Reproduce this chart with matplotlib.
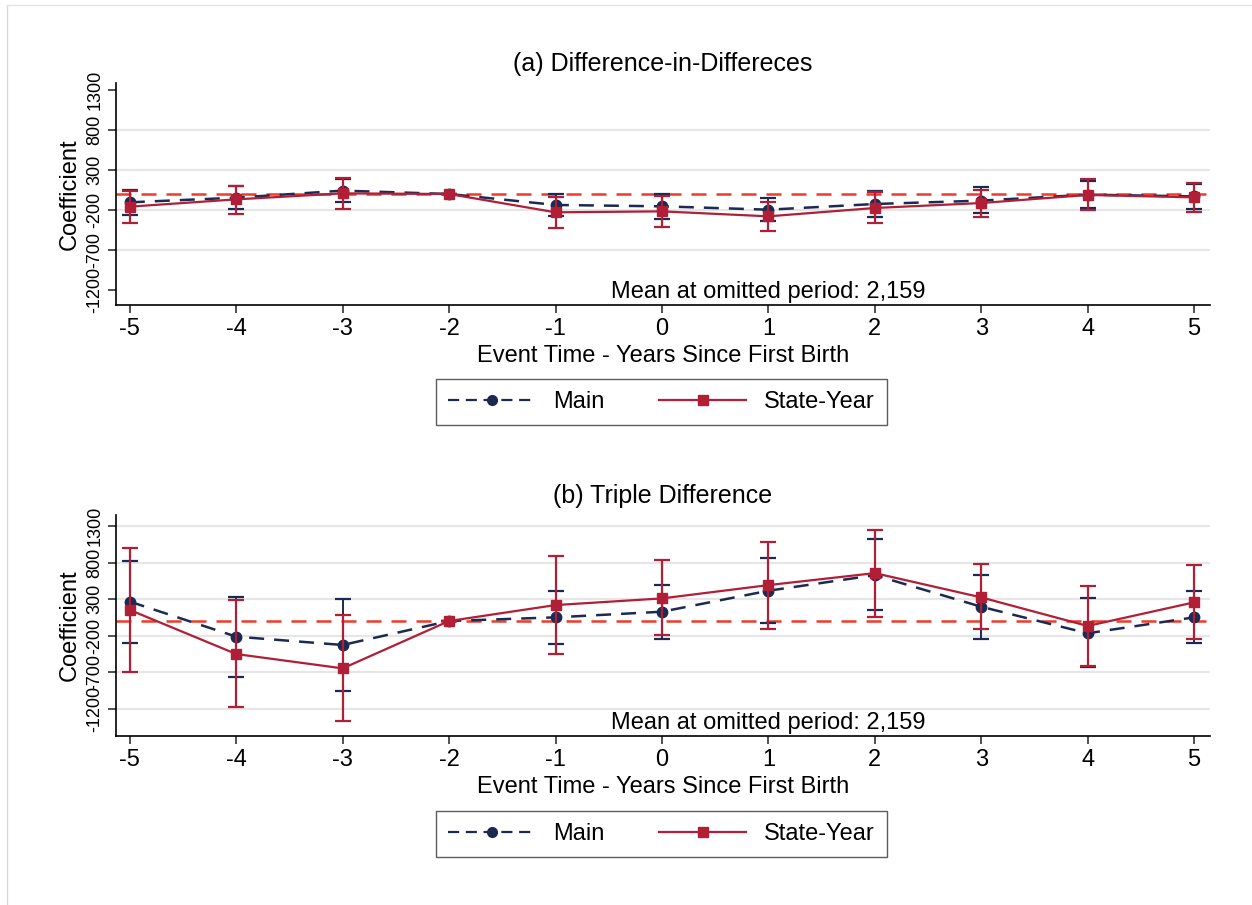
# Event-study coefficients: DiD and triple difference, Main vs State-Year

import numpy as np
import matplotlib.pyplot as plt
from matplotlib.lines import Line2D

plt.rcParams['font.family'] = ['Liberation Sans', 'DejaVu Sans']

years = [-5, -4, -3, -2, -1, 0, 1, 2, 3, 4, 5]
yticks = [-1200, -700, -200, 300, 800, 1300]

# (a) Difference-in-differences
main_a = [-104, -46, 42, 0, -137, -154, -196, -125, -83, -8, -30]
main_a_lo = [-262, -188, -104, 0, -275, -315, -338, -290, -240, -180, -190]
main_a_hi = [54, 96, 188, 0, 0, 0, -54, 33, 83, 165, 130]
red_a = [-158, -67, 8, 0, -229, -217, -279, -175, -113, -12, -42]
red_a_lo = [-358, -254, -188, 0, -425, -417, -458, -367, -292, -205, -225]
red_a_hi = [41, 104, 200, 0, -35, -25, -95, 30, 55, 184, 133]

# (b) Triple difference
main_b = [265, -214, -328, 0, 50, 127, 414, 627, 195, -168, 50]
main_b_lo = [-306, -762, -958, 0, -314, -241, -23, 150, -241, -632, -300]
main_b_hi = [821, 333, 301, 0, 409, 495, 868, 1123, 636, 309, 414]
red_b = [151, -452, -648, 0, 218, 309, 491, 655, 323, -68, 255]
red_b_lo = [-698, -1172, -1369, 0, -450, -195, -105, 59, -105, -614, -250]
red_b_hi = [995, 287, 82, 0, 895, 832, 1082, 1250, 782, 473, 764]

navy = '#1c2a52'
cranberry = '#b01f36'
zero_red = '#ee3b2b'

fig = plt.figure(figsize=(12.52, 9.05), dpi=100)

# faint screenshot border
fig.add_artist(Line2D([7 / 1252, 7 / 1252], [0, 1 - 5 / 905], color='#d8d8d8', lw=1))
fig.add_artist(Line2D([7 / 1252, 1], [1 - 5 / 905, 1 - 5 / 905], color='#e4e4e4', lw=1))


def panel(ax, title, m, mlo, mhi, r, rlo, rhi, ylim, grid_vals, leg_y):
    ax.set_xlim(-5.13, 5.15)
    ax.set_ylim(*ylim)
    for g in grid_vals:
        ax.axhline(g, color='#e6e6e6', lw=1.6, zorder=0)
    ax.axhline(0, color=zero_red, lw=1.8, ls=(0, (6, 4)), zorder=1)

    m = np.array(m); r = np.array(r)
    ax.errorbar(years, m, yerr=[m - np.array(mlo), np.array(mhi) - m], fmt='none',
                ecolor=navy, elinewidth=1.4, capsize=5.5, capthick=1.6, zorder=2)
    ax.plot(years, m, color=navy, lw=1.8, ls=(0, (6, 4)), marker='o', ms=7.5, zorder=3)
    ax.errorbar(years, r, yerr=[r - np.array(rlo), np.array(rhi) - r], fmt='none',
                ecolor=cranberry, elinewidth=1.6, capsize=5.5, capthick=1.6, zorder=4)
    ax.plot(years, r, color=cranberry, lw=1.6, marker='s', ms=7.5, zorder=5)

    ax.set_title(title, fontsize=18, pad=9)
    ax.set_xticks(years)
    ax.set_xticklabels([str(y) for y in years], fontsize=17)
    ax.set_yticks(yticks)
    ax.set_yticklabels([str(t) for t in yticks], fontsize=13, rotation=90, va='center')
    ax.tick_params(axis='both', length=6, width=1.2, color='#333333', pad=3)
    ax.set_xlabel('Event Time - Years Since First Birth', fontsize=17, labelpad=4)
    ax.set_ylabel('Coefficient', fontsize=17, labelpad=4)
    for s in ['top', 'right']:
        ax.spines[s].set_visible(False)
    ax.spines['left'].set_linewidth(1.2)
    ax.spines['bottom'].set_linewidth(1.2)
    ax.text(0.596, 0.008, 'Mean at omitted period: 2,159', transform=ax.transAxes,
            ha='center', va='bottom', fontsize=17)

    handles = [Line2D([], [], color=navy, lw=1.6, ls=(0, (5, 3)), marker='o', ms=7),
               Line2D([], [], color=cranberry, lw=1.6, marker='s', ms=7)]
    fig.legend(handles, ['Main', 'State-Year'], loc='center', ncol=2,
               bbox_to_anchor=(661.5 / 1252, leg_y), fontsize=17, frameon=True,
               fancybox=False, edgecolor='#333333', handlelength=3.7,
               columnspacing=2.3, handletextpad=0.75, borderpad=0.5)


ax1 = fig.add_axes([116 / 1252, 1 - 305 / 905, 1094 / 1252, 222 / 905])
panel(ax1, '(a) Difference-in-Differeces', main_a, main_a_lo, main_a_hi,
      red_a, red_a_lo, red_a_hi, (-1387, 1387), [-700, -200, 300, 800], 1 - 402 / 905)

ax2 = fig.add_axes([116 / 1252, 1 - 736 / 905, 1094 / 1252, 221 / 905])
panel(ax2, '(b) Triple Difference', main_b, main_b_lo, main_b_hi,
      red_b, red_b_lo, red_b_hi, (-1573, 1450), [-1200, -700, -200, 300, 800, 1300], 1 - 834 / 905)

fig.savefig('out.png', dpi=100)
